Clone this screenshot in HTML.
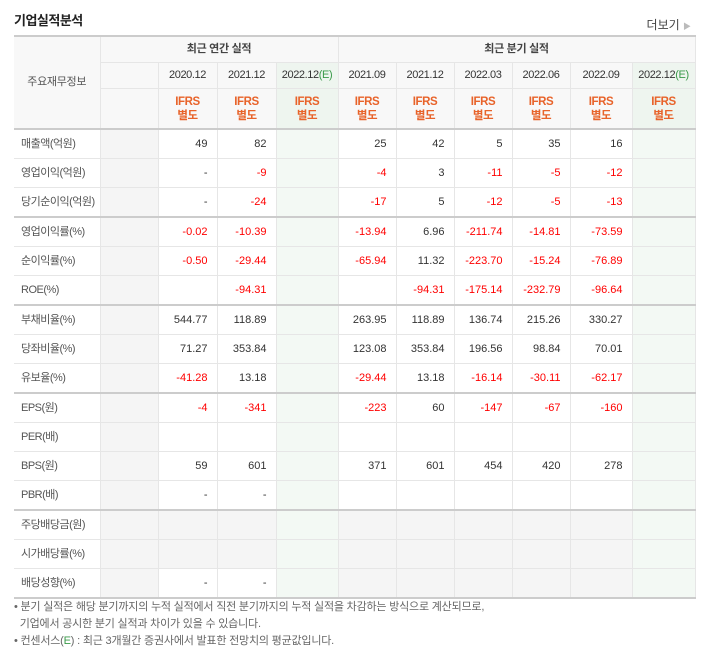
<!DOCTYPE html>
<html><head><meta charset="utf-8">
<style>
body{margin:0;background:#fff;width:709px;height:665px;overflow:hidden;font-family:"Liberation Sans","Noto Sans CJK KR","NanumGothic",sans-serif;}
.title{position:absolute;left:14px;top:10px;font-size:13px;font-weight:bold;color:#222;letter-spacing:-0.5px}
.more{position:absolute;right:18px;top:16px;font-size:12px;color:#444}
.more span{color:#bbb;font-size:8px}
table{position:absolute;left:14px;top:35px;border-collapse:collapse;table-layout:fixed;width:681px;font-size:11px;color:#333}
td,th{border:1px solid #e6e6e6;padding:0;height:28px;font-weight:normal;white-space:nowrap;overflow:hidden;line-height:13px}
th{background:#f8f8f8;color:#333;letter-spacing:-0.4px}
.hd1 th{height:25px;font-weight:bold;color:#444;letter-spacing:-0.3px}
.hd2 th{height:25px}
.hd3 th{height:39px;color:#e8632a;line-height:14px;font-weight:bold;font-size:11.5px}
th.e{background:#eef5ef}
.e{background:#f3f9f4}
td{text-align:right;padding-right:9px}
td.l{text-align:left;padding-left:7px;padding-right:0;color:#555;border-left:none;letter-spacing:-0.5px}
td.g,th.g{background:#f5f5f5}
td.gy{background:#f5f5f5}
.n{color:#f00}
.grp td{border-top:2px solid #ccc}
tr.last td{border-bottom:2px solid #ccc}
.vb{border-left:1px solid #ccc !important}
.top th{border-top:2px solid #ccc}
.eg{color:#3a9a4a}
.notes{position:absolute;left:14px;top:599px;font-size:11px;color:#666;line-height:17px;letter-spacing:-0.2px}
</style></head><body>
<div class="title">기업실적분석</div>
<div class="more">더보기 <span>▶</span></div>
<table>
<colgroup><col style="width:86px"><col style="width:58px"><col style="width:59px"><col style="width:59px"><col style="width:62px"><col style="width:58px"><col style="width:58px"><col style="width:58px"><col style="width:58px"><col style="width:62px"><col style="width:63px"></colgroup>
<tr class="hd1 top"><th rowspan="3" style="border-left:none;color:#555;font-weight:normal">주요재무정보</th><th colspan="4" class="vb">최근 연간 실적</th><th colspan="6" class="vb">최근 분기 실적</th></tr>
<tr class="hd2"><th class="vb"></th><th>2020.12</th><th>2021.12</th><th class="e">2022.12<span class="eg">(E)</span></th><th class="vb">2021.09</th><th>2021.12</th><th>2022.03</th><th>2022.06</th><th>2022.09</th><th class="e">2022.12<span class="eg">(E)</span></th></tr>
<tr class="hd3"><th class="vb"></th><th>IFRS<br>별도</th><th>IFRS<br>별도</th><th class="e">IFRS<br>별도</th><th class="vb">IFRS<br>별도</th><th>IFRS<br>별도</th><th>IFRS<br>별도</th><th>IFRS<br>별도</th><th>IFRS<br>별도</th><th class="e">IFRS<br>별도</th></tr>
<tbody id="body"></tbody>
</table>
<div class="notes">
<div>• 분기 실적은 해당 분기까지의 누적 실적에서 직전 분기까지의 누적 실적을 차감하는 방식으로 계산되므로,</div>
<div>&nbsp;&nbsp;기업에서 공시한 분기 실적과 차이가 있을 수 있습니다.</div>
<div>• 컨센서스(<span class="eg">E</span>) : 최근 3개월간 증권사에서 발표한 전망치의 평균값입니다.</div>
</div>
<script>
const labels=["매출액(억원)","영업이익(억원)","당기순이익(억원)","영업이익률(%)","순이익률(%)","ROE(%)","부채비율(%)","당좌비율(%)","유보율(%)","EPS(원)","PER(배)","BPS(원)","PBR(배)","주당배당금(원)","시가배당률(%)","배당성향(%)"];
const annual=[["49","82"],["-","-9"],["-","-24"],["-0.02","-10.39"],["-0.50","-29.44"],["","-94.31"],["544.77","118.89"],["71.27","353.84"],["-41.28","13.18"],["-4","-341"],["",""],["59","601"],["-","-"],["",""],["",""],["-","-"]];
const quarterly=[["25","42","5","35","16"],["-4","3","-11","-5","-12"],["-17","5","-12","-5","-13"],["-13.94","6.96","-211.74","-14.81","-73.59"],["-65.94","11.32","-223.70","-15.24","-76.89"],["","-94.31","-175.14","-232.79","-96.64"],["263.95","118.89","136.74","215.26","330.27"],["123.08","353.84","196.56","98.84","70.01"],["-29.44","13.18","-16.14","-30.11","-62.17"],["-223","60","-147","-67","-160"],["","","","",""],["371","601","454","420","278"],["","","","",""],["","","","",""],["","","","",""],["","","","",""]];
const groupStarts=[0,3,6,9,13];
const body=document.getElementById('body');
function cell(tr,v,cls){const td=document.createElement('td');


if(cls)td.className=cls;td.textContent=v;if(/^-\d/.test(v))td.classList.add('n');tr.appendChild(td);return td;}
labels.forEach((lab,i)=>{
 const tr=document.createElement('tr');
 
 
 if(groupStarts.includes(i))tr.className='grp';
 if(i===labels.length-1)tr.classList.add('last');
 const l=document.createElement('td');l.className='l';l.textContent=lab;
 
 
 tr.appendChild(l);
 cell(tr,'','g vb');
 const div=i>=13;
 const annGray=i===13||i===14;
 annual[i].forEach(v=>cell(tr,v,annGray?'gy':''));
 cell(tr,'','e');
 quarterly[i].forEach((v,j)=>cell(tr,v,(div?'gy ':'')+(j===0?'vb':'')));
 cell(tr,'','e');
 body.appendChild(tr);
});
</script>
</body></html>
